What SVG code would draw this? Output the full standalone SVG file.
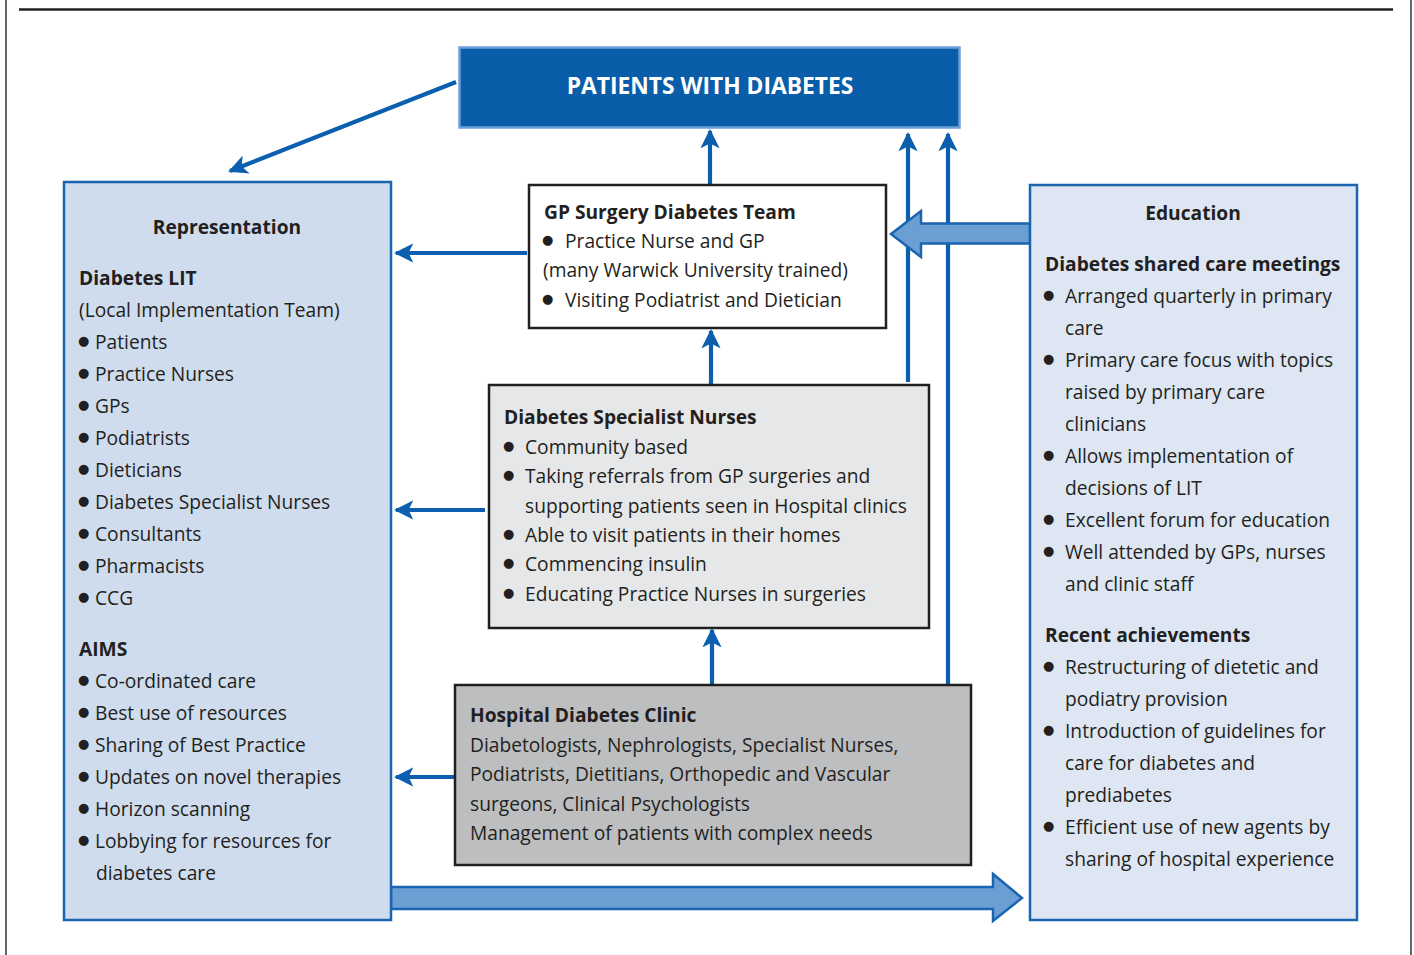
<svg xmlns="http://www.w3.org/2000/svg" width="1414" height="955" viewBox="0 0 1414 955">
<defs>
<style>
text{font-family:"Open Sans","Noto Sans","Liberation Sans",sans-serif;font-size:19.2px;fill:#231f20}
.b{font-weight:bold}
.c{text-anchor:middle}
.bu{font-family:"DejaVu Sans",sans-serif;font-size:13px;transform:translateY(-3px)}
.ln{stroke:#0b5fae;stroke-width:4.2;fill:none}
.blk{fill:#6b9fd4;stroke:#1a64b0;stroke-width:2.5}
</style>
<marker id="ah" viewBox="0 0 10 10" refX="9" refY="5" markerWidth="4.6" markerHeight="4.6" orient="auto" markerUnits="strokeWidth">
<path d="M0,0 L10,5 L0,10 L2.5,5 Z" fill="#0b5fae"/>
</marker>
</defs>
<rect width="1414" height="955" fill="#fff"/>
<line x1="6" y1="0" x2="6" y2="955" stroke="#666" stroke-width="2"/>
<line x1="1411" y1="0" x2="1411" y2="955" stroke="#666" stroke-width="2"/>
<line x1="19" y1="9.5" x2="1393" y2="9.5" stroke="#231f20" stroke-width="2.5"/>

<g id="connectors">
<line class="ln" x1="456" y1="82" x2="230" y2="171" marker-end="url(#ah)"/>
<line class="ln" x1="710" y1="185" x2="710" y2="131" marker-end="url(#ah)"/>
<line class="ln" x1="711" y1="385" x2="711" y2="331" marker-end="url(#ah)"/>
<line class="ln" x1="712" y1="685" x2="712" y2="630" marker-end="url(#ah)"/>
<line class="ln" x1="908" y1="382" x2="908" y2="134" marker-end="url(#ah)"/>
<line class="ln" x1="948" y1="685" x2="948" y2="134" marker-end="url(#ah)"/>
<line class="ln" x1="527" y1="253" x2="396" y2="253" marker-end="url(#ah)"/>
<line class="ln" x1="485" y1="510" x2="396" y2="510" marker-end="url(#ah)"/>
<line class="ln" x1="455" y1="777" x2="396" y2="777" marker-end="url(#ah)"/>
<path class="blk" d="M1030,223.5 L921,223.5 L921,211 L891,234 L921,257 L921,243.5 L1030,243.5 Z"/>
<path class="blk" d="M391,887 L993,887 L993,874 L1022,898 L993,921 L993,909 L391,909 Z"/>
</g>

<g id="patients">
<rect x="459.5" y="47.5" width="500" height="80" fill="#0a5da8" stroke="#6c9fd8" stroke-width="2.5"/>
<text class="b c" x="710" y="94" style="fill:#fff;font-size:22.8px">PATIENTS WITH DIABETES</text>
</g>

<g id="representation">
<rect x="64" y="182" width="327" height="738" fill="#cfdcee" stroke="#1a64b0" stroke-width="2.5"/>
<text class="b c" x="227" y="234">Representation</text>
<text class="b" x="79" y="285">Diabetes LIT</text>
<text x="79" y="317">(Local Implementation Team)</text>
<text class="bu" x="78" y="348">●</text><text x="95" y="349">Patients</text>
<text class="bu" x="78" y="380">●</text><text x="95" y="381">Practice Nurses</text>
<text class="bu" x="78" y="412">●</text><text x="95" y="413">GPs</text>
<text class="bu" x="78" y="444">●</text><text x="95" y="445">Podiatrists</text>
<text class="bu" x="78" y="476">●</text><text x="95" y="477">Dieticians</text>
<text class="bu" x="78" y="508">●</text><text x="95" y="509">Diabetes Specialist Nurses</text>
<text class="bu" x="78" y="540">●</text><text x="95" y="541">Consultants</text>
<text class="bu" x="78" y="572">●</text><text x="95" y="573">Pharmacists</text>
<text class="bu" x="78" y="604">●</text><text x="95" y="605">CCG</text>
<text class="b" x="79" y="656">AIMS</text>
<text class="bu" x="78" y="687">●</text><text x="95" y="688">Co-ordinated care</text>
<text class="bu" x="78" y="719">●</text><text x="95" y="720">Best use of resources</text>
<text class="bu" x="78" y="751">●</text><text x="95" y="752">Sharing of Best Practice</text>
<text class="bu" x="78" y="783">●</text><text x="95" y="784">Updates on novel therapies</text>
<text class="bu" x="78" y="815">●</text><text x="95" y="816">Horizon scanning</text>
<text class="bu" x="78" y="847">●</text><text x="95" y="848">Lobbying for resources for</text>
<text x="96" y="880">diabetes care</text>
</g>

<g id="gp-surgery">
<rect x="529" y="185" width="357" height="143" fill="#fff" stroke="#231f20" stroke-width="2.5"/>
<text class="b" x="544" y="219">GP Surgery Diabetes Team</text>
<text class="bu" x="542" y="247">●</text><text x="565" y="248">Practice Nurse and GP</text>
<text x="543" y="277">(many Warwick University trained)</text>
<text class="bu" x="542" y="306">●</text><text x="565" y="307">Visiting Podiatrist and Dietician</text>
</g>

<g id="specialist-nurses">
<rect x="489" y="385" width="440" height="243" fill="#e6e7e8" stroke="#231f20" stroke-width="2.5"/>
<text class="b" x="504" y="424">Diabetes Specialist Nurses</text>
<text class="bu" x="503" y="453">●</text><text x="525" y="454">Community based</text>
<text class="bu" x="503" y="482">●</text><text x="525" y="483">Taking referrals from GP surgeries and</text>
<text x="525" y="513">supporting patients seen in Hospital clinics</text>
<text class="bu" x="503" y="541">●</text><text x="525" y="542">Able to visit patients in their homes</text>
<text class="bu" x="503" y="570">●</text><text x="525" y="571">Commencing insulin</text>
<text class="bu" x="503" y="600">●</text><text x="525" y="601">Educating Practice Nurses in surgeries</text>
</g>

<g id="hospital-clinic">
<rect x="455" y="685" width="516" height="180" fill="#bcbec0" stroke="#231f20" stroke-width="2.5"/>
<text class="b" x="470" y="722">Hospital Diabetes Clinic</text>
<text x="470" y="752">Diabetologists, Nephrologists, Specialist Nurses,</text>
<text x="470" y="781">Podiatrists, Dietitians, Orthopedic and Vascular</text>
<text x="470" y="811">surgeons, Clinical Psychologists</text>
<text x="470" y="840">Management of patients with complex needs</text>
</g>

<g id="education">
<rect x="1030" y="185" width="327" height="735" fill="#dde6f2" stroke="#1a64b0" stroke-width="2.5"/>
<text class="b c" x="1193" y="220">Education</text>
<text class="b" x="1045" y="271">Diabetes shared care meetings</text>
<text class="bu" x="1043" y="302">●</text><text x="1065" y="303">Arranged quarterly in primary</text>
<text x="1065" y="335">care</text>
<text class="bu" x="1043" y="366">●</text><text x="1065" y="367">Primary care focus with topics</text>
<text x="1065" y="399">raised by primary care</text>
<text x="1065" y="431">clinicians</text>
<text class="bu" x="1043" y="462">●</text><text x="1065" y="463">Allows implementation of</text>
<text x="1065" y="495">decisions of LIT</text>
<text class="bu" x="1043" y="526">●</text><text x="1065" y="527">Excellent forum for education</text>
<text class="bu" x="1043" y="558">●</text><text x="1065" y="559">Well attended by GPs, nurses</text>
<text x="1065" y="591">and clinic staff</text>
<text class="b" x="1045" y="642">Recent achievements</text>
<text class="bu" x="1043" y="673">●</text><text x="1065" y="674">Restructuring of dietetic and</text>
<text x="1065" y="706">podiatry provision</text>
<text class="bu" x="1043" y="737">●</text><text x="1065" y="738">Introduction of guidelines for</text>
<text x="1065" y="770">care for diabetes and</text>
<text x="1065" y="802">prediabetes</text>
<text class="bu" x="1043" y="833">●</text><text x="1065" y="834">Efficient use of new agents by</text>
<text x="1065" y="866">sharing of hospital experience</text>
</g>
</svg>
